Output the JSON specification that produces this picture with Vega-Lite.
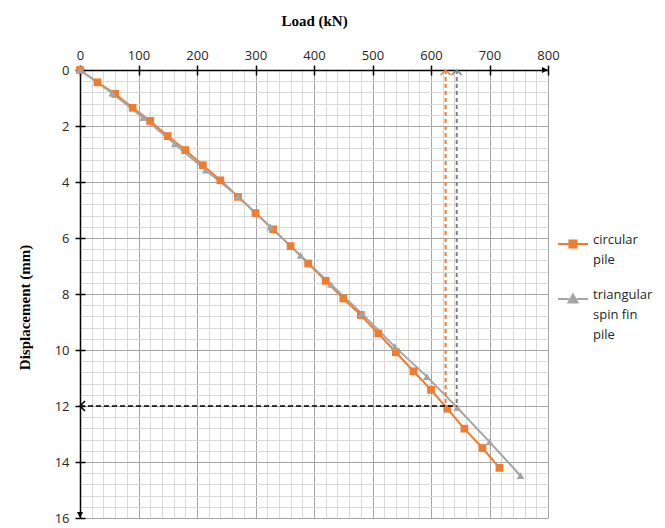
{
  "$schema": "https://vega.github.io/schema/vega-lite/v6.json",
  "width": 468,
  "height": 448,
  "autosize": "none",
  "padding": {"left": 80, "top": 70, "right": 117, "bottom": 10},
  "background": "white",
  "config": {"view": {"stroke": null}, "font": "Open Sans"},
  "datasets": {
    "curves": [
      {"series": "circular pile", "load": 0, "disp": 0},
      {"series": "circular pile", "load": 30, "disp": 0.44},
      {"series": "circular pile", "load": 60, "disp": 0.85},
      {"series": "circular pile", "load": 90, "disp": 1.35},
      {"series": "circular pile", "load": 120, "disp": 1.82},
      {"series": "circular pile", "load": 150, "disp": 2.36},
      {"series": "circular pile", "load": 180, "disp": 2.86},
      {"series": "circular pile", "load": 210, "disp": 3.4},
      {"series": "circular pile", "load": 240, "disp": 3.94},
      {"series": "circular pile", "load": 270, "disp": 4.53},
      {"series": "circular pile", "load": 300, "disp": 5.11},
      {"series": "circular pile", "load": 330, "disp": 5.69},
      {"series": "circular pile", "load": 360, "disp": 6.29},
      {"series": "circular pile", "load": 390, "disp": 6.91},
      {"series": "circular pile", "load": 420, "disp": 7.53},
      {"series": "circular pile", "load": 450, "disp": 8.16},
      {"series": "circular pile", "load": 480, "disp": 8.75},
      {"series": "circular pile", "load": 510, "disp": 9.41},
      {"series": "circular pile", "load": 540, "disp": 10.08},
      {"series": "circular pile", "load": 570, "disp": 10.76},
      {"series": "circular pile", "load": 600, "disp": 11.42},
      {"series": "circular pile", "load": 628, "disp": 12.1},
      {"series": "circular pile", "load": 657, "disp": 12.81},
      {"series": "circular pile", "load": 688, "disp": 13.5},
      {"series": "circular pile", "load": 717, "disp": 14.21},
      {"series": "triangular spin fin pile", "load": 0, "disp": 0},
      {"series": "triangular spin fin pile", "load": 55, "disp": 0.83},
      {"series": "triangular spin fin pile", "load": 108, "disp": 1.7},
      {"series": "triangular spin fin pile", "load": 162, "disp": 2.64},
      {"series": "triangular spin fin pile", "load": 215, "disp": 3.58},
      {"series": "triangular spin fin pile", "load": 270, "disp": 4.51},
      {"series": "triangular spin fin pile", "load": 325, "disp": 5.6},
      {"series": "triangular spin fin pile", "load": 377, "disp": 6.62},
      {"series": "triangular spin fin pile", "load": 429, "disp": 7.66},
      {"series": "triangular spin fin pile", "load": 482, "disp": 8.7},
      {"series": "triangular spin fin pile", "load": 538, "disp": 9.88},
      {"series": "triangular spin fin pile", "load": 593, "disp": 10.95},
      {"series": "triangular spin fin pile", "load": 645, "disp": 12.06},
      {"series": "triangular spin fin pile", "load": 700, "disp": 13.28},
      {"series": "triangular spin fin pile", "load": 753, "disp": 14.49}
    ]
  },
  "layer": [
    {
      "data": {"name": "curves"},
      "mark": {"type": "line", "strokeWidth": 2},
      "encoding": {
        "x": {
          "field": "load", "type": "quantitative",
          "scale": {"domain": [0, 800], "nice": false, "zero": false},
          "axis": {
            "orient": "top",
            "values": [0,20,40,60,80,100,120,140,160,180,200,220,240,260,280,300,320,340,360,380,400,420,440,460,480,500,520,540,560,580,600,620,640,660,680,700,720,740,760,780,800],
            "grid": true,
            "gridColor": {"condition": {"test": "datum.value % 100 === 0", "value": "#a6a6a6"}, "value": "#d9d9d9"},
            "gridWidth": 1,
            "labelExpr": "datum.value % 100 === 0 ? format(datum.value, 'd') : ''",
            "labelOverlap": false,
            "labelFlush": false,
            "tickOpacity": {"condition": {"test": "datum.value % 100 === 0", "value": 1}, "value": 0},
            "tickColor": "black", "tickSize": 5, "tickWidth": 1.5,
            "domainColor": "black", "domainWidth": 1.5,
            "labelFont": "Open Sans", "labelFontSize": 13, "labelColor": "#262626", "labelPadding": 3,
            "title": "Load (kN)", "titleFont": "Liberation Serif", "titleFontSize": 15, "titleFontWeight": "bold", "titleColor": "black", "titlePadding": 21
          }
        },
        "y": {
          "field": "disp", "type": "quantitative",
          "scale": {"domain": [0, 16], "nice": false, "zero": false, "reverse": true},
          "axis": {
            "orient": "left",
            "values": [0,0.4,0.8,1.2,1.6,2,2.4,2.8,3.2,3.6,4,4.4,4.8,5.2,5.6,6,6.4,6.8,7.2,7.6,8,8.4,8.8,9.2,9.6,10,10.4,10.8,11.2,11.6,12,12.4,12.8,13.2,13.6,14,14.4,14.8,15.2,15.6,16],
            "grid": true,
            "gridColor": {"condition": {"test": "abs(datum.value/2 - round(datum.value/2)) < 0.01", "value": "#a6a6a6"}, "value": "#d9d9d9"},
            "gridWidth": 1,
            "labelExpr": "abs(datum.value/2 - round(datum.value/2)) < 0.01 ? format(datum.value, 'd') : ''",
            "labelOverlap": false,
            "labelFlush": false,
            "tickOpacity": {"condition": {"test": "abs(datum.value/2 - round(datum.value/2)) < 0.01", "value": 1}, "value": 0},
            "tickColor": "black", "tickSize": 5, "tickWidth": 1.5,
            "domainColor": "black", "domainWidth": 1.5,
            "labelFont": "Open Sans", "labelFontSize": 13, "labelColor": "#262626", "labelPadding": 6,
            "title": "Displacement (mm)", "titleFont": "Liberation Serif", "titleFontSize": 15, "titleFontWeight": "bold", "titleColor": "black", "titlePadding": 22,
            "titleY": 237
          }
        },
        "color": {
          "field": "series", "type": "nominal",
          "scale": {"domain": ["circular pile", "triangular spin fin pile"], "range": ["#ED7D31", "#A5A5A5"]},
          "legend": {
            "orient": "none", "legendX": 477, "legendY": 158, "direction": "vertical",
            "title": null, "symbolType": "stroke", "symbolSize": 900, "symbolStrokeWidth": 2,
            "labelFont": "Open Sans", "labelFontSize": 13, "labelColor": "#262626", "labelLimit": 200,
            "labelBaseline": "alphabetic", "labelOffset": 4, "rowPadding": 16,
            "labelExpr": "datum.label == 'circular pile' ? ['circular', 'pile'] : ['triangular', 'spin fin', 'pile']",
            "encode": {
              "labels": {"update": {"lineHeight": {"value": 20}}},
              "symbols": {
                "update": {
                  "fill": {"scale": "color", "field": "value"},
                  "shape": {"signal": "datum.value == 'circular pile' ? 'M-1,0H-0.24M0.24,0H1M-0.24,-0.24H0.24V0.24H-0.24Z' : 'M-1,0H-0.26M0.26,0H1M-0.3,0.24L0,-0.3L0.3,0.24Z'"}
                }
              }
            }
          }
        }
      }
    },
    {
      "data": {"name": "curves"},
      "mark": {"type": "point", "filled": true, "size": 60, "opacity": 1, "strokeWidth": 0},
      "encoding": {
        "x": {"field": "load", "type": "quantitative",
          "axis": {"orient": "top", "values": [0,100,200,300,400,500,600,700,800], "labels": false, "domain": false, "grid": false, "title": null, "tickSize": -5, "tickColor": "black", "tickWidth": 1.5}},
        "y": {"field": "disp", "type": "quantitative",
          "axis": {"orient": "left", "values": [0,2,4,6,8,10,12,14,16], "labels": false, "domain": false, "grid": false, "title": null, "tickSize": -5, "tickColor": "black", "tickWidth": 1.5}},
        "shape": {"field": "series", "type": "nominal", "scale": {"range": ["square", "triangle-up"]}, "legend": null},
        "fill": {"field": "series", "type": "nominal", "scale": {"range": ["#ED7D31", "#A5A5A5"]}, "legend": null}
      }
    },
    {
      "data": {"values": [{"load": 625, "d0": 0, "d1": 12}]},
      "mark": {"type": "rule", "color": "#ED7D31", "strokeWidth": 2, "strokeDash": [4, 3]},
      "encoding": {
        "x": {"field": "load", "type": "quantitative", "axis": null},
        "y": {"field": "d0", "type": "quantitative", "axis": null},
        "y2": {"field": "d1"}
      }
    },
    {
      "data": {"values": [{"load": 644, "d0": 0, "d1": 12}]},
      "mark": {"type": "rule", "color": "#7f7f7f", "strokeWidth": 2, "strokeDash": [4, 3]},
      "encoding": {
        "x": {"field": "load", "type": "quantitative", "axis": null},
        "y": {"field": "d0", "type": "quantitative", "axis": null},
        "y2": {"field": "d1"}
      }
    },
    {
      "data": {"values": [{"l0": 0, "l1": 644, "disp": 12}]},
      "mark": {"type": "rule", "color": "black", "strokeWidth": 1.5, "strokeDash": [5, 3]},
      "encoding": {
        "x": {"field": "l0", "type": "quantitative", "axis": null},
        "x2": {"field": "l1"},
        "y": {"field": "disp", "type": "quantitative", "axis": null}
      }
    },
    {
      "data": {"values": [{"load": 625, "disp": 0}]},
      "mark": {"type": "point", "shape": "M-1,1L0,0L1,1", "filled": false, "size": 100, "color": "#ED7D31", "strokeWidth": 1.5, "opacity": 1},
      "encoding": {
        "x": {"field": "load", "type": "quantitative", "axis": null},
        "y": {"field": "disp", "type": "quantitative", "axis": null}
      }
    },
    {
      "data": {"values": [{"load": 644, "disp": 0}]},
      "mark": {"type": "point", "shape": "M-1,1L0,0L1,1", "filled": false, "size": 100, "color": "#7f7f7f", "strokeWidth": 1.5, "opacity": 1},
      "encoding": {
        "x": {"field": "load", "type": "quantitative", "axis": null},
        "y": {"field": "disp", "type": "quantitative", "axis": null}
      }
    },
    {
      "data": {"values": [{"load": 0, "disp": 12}]},
      "mark": {"type": "point", "shape": "M1,-1L0,0L1,1", "filled": false, "size": 100, "color": "black", "strokeWidth": 1.5, "opacity": 1},
      "encoding": {
        "x": {"field": "load", "type": "quantitative", "axis": null},
        "y": {"field": "disp", "type": "quantitative", "axis": null}
      }
    },
    {
      "data": {"values": [{"load": 800, "disp": 0}]},
      "mark": {"type": "point", "shape": "M0,0L-2,-1L-2,1Z", "filled": true, "size": 36, "color": "black", "opacity": 1},
      "encoding": {
        "x": {"field": "load", "type": "quantitative", "axis": null},
        "y": {"field": "disp", "type": "quantitative", "axis": null}
      }
    },
    {
      "data": {"values": [{"load": 0, "disp": 16}]},
      "mark": {"type": "point", "shape": "M0,0L-1,-2L1,-2Z", "filled": true, "size": 36, "color": "black", "opacity": 1},
      "encoding": {
        "x": {"field": "load", "type": "quantitative", "axis": null},
        "y": {"field": "disp", "type": "quantitative", "axis": null}
      }
    }
  ],
  "resolve": {"axis": {"x": "independent", "y": "independent"}}
}
